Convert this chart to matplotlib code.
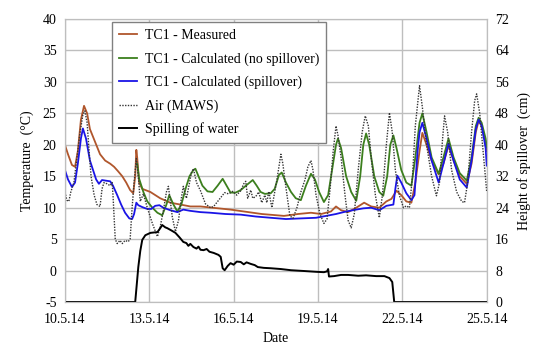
import matplotlib
matplotlib.use("Agg")
import matplotlib.pyplot as plt

plt.rcParams['font.family'] = ['Liberation Serif', 'DejaVu Serif']
plt.rcParams['font.size'] = 10
plt.rcParams['axes.unicode_minus'] = False

# days since 10.5.14 00:00
tick_days = [0, 3, 6, 9, 12, 15]
tick_labels = ['10.5.14', '13.5.14', '16.5.14', '19.5.14', '22.5.14', '25.5.14']

# TC1 - Measured (degC)
meas_d = [0, 0.11, 0.25, 0.36, 0.46, 0.57, 0.68, 0.79, 0.89, 1.07, 1.25, 1.43, 1.61,
          1.75, 1.89, 2.04, 2.18, 2.32, 2.43, 2.5, 2.54, 2.57, 2.64, 2.75, 3.04, 3.39,
          3.75, 4.11, 4.46, 4.82, 5.89, 7.0, 7.79, 8.29, 8.75, 9.11, 9.46, 9.64, 9.82,
          10.07, 10.36, 10.64, 10.89, 11.18, 11.43, 11.61, 11.79, 11.96, 12.14, 12.32,
          12.46, 12.61, 12.71, 12.86, 13.04, 13.29, 13.46, 13.64, 13.82, 14.04, 14.29,
          14.46, 14.61, 14.71, 14.82, 14.96, 15.0]
meas_t = [20, 18.5, 16.8, 16.5, 19, 24, 26.2, 25, 22.5, 20.5, 18.5, 17.5, 17,
          16.5, 15.8, 15, 14, 12.8, 12.3, 15, 19.2, 18, 14, 13, 12.5, 11.5,
          10.8, 10.5, 10.2, 10.2, 9.7, 9.0, 8.7, 9.0, 9.2, 9.0, 9.4, 10.2, 9.6,
          9.3, 10.0, 10.8, 10.2, 10.0, 11.0, 11.4, 12.7, 12.0, 11.0, 10.8,
          14, 19, 21.9, 20, 17.5, 15.3, 17, 19.9, 17.5, 15, 13.8,
          17, 22, 23.8, 23, 20.5, 19]

# TC1 - Calculated (no spillover)
nosp_d = [2.57, 2.64, 2.79, 2.93, 3.11, 3.29, 3.46, 3.61, 3.71, 3.86, 4.0, 4.14,
          4.29, 4.43, 4.57, 4.64, 4.75, 4.89, 5.07, 5.25, 5.43, 5.61, 5.75, 5.89,
          6.07, 6.25, 6.46, 6.68, 6.82, 6.96, 7.11, 7.32, 7.46, 7.61, 7.71, 7.86,
          8.04, 8.21, 8.39, 8.57, 8.75, 8.89, 9.04, 9.21, 9.36, 9.5, 9.64, 9.71,
          9.82, 10.0, 10.18, 10.36, 10.5, 10.61, 10.71, 10.82, 11.0, 11.18, 11.32, 11.46,
          11.57, 11.68, 11.79, 11.96, 12.14, 12.32, 12.46, 12.61, 12.71, 12.86, 13.04, 13.29,
          13.46, 13.64, 13.82, 14.04, 14.29, 14.46, 14.61, 14.71, 14.82, 14.96, 15.0]
nosp_t = [17, 14.6, 12.5, 11, 10, 9.2, 8.8, 10.5, 12, 10.5, 9.4, 10.5,
          13, 15, 16, 16.2, 15, 13.5, 12.6, 12.5, 13.5, 14.6, 13.5, 12.4,
          12.4, 12.8, 13.6, 14.4, 13.5, 12.5, 12.2, 12.3, 13, 15.2, 15.6, 14,
          12.5, 11.5, 11.2, 13.5, 15.4, 14.5, 12.5, 10.9, 12, 16, 20, 21,
          19.5, 15, 12.5, 11.1, 15, 20, 21.8, 20, 15, 12.5, 11.9, 15,
          20, 21.5, 19.5, 16, 14, 13.5, 18, 23.5, 25, 22, 18, 15.4,
          18, 21, 18, 15.5, 14.3, 18, 23, 24.3, 23.5, 21, 19.6]

# TC1 - Calculated (spillover)
spil_d = [0, 0.11, 0.25, 0.36, 0.46, 0.57, 0.64, 0.75, 0.89, 1.0, 1.11, 1.21, 1.32,
          1.46, 1.61, 1.71, 1.86, 2.0, 2.14, 2.29, 2.39, 2.46, 2.54, 2.61, 2.75,
          2.93, 3.07, 3.21, 3.36, 3.5, 3.75, 4.0, 4.21, 4.46, 4.82, 5.18, 5.71,
          6.25, 6.79, 7.32, 7.86, 8.39, 8.93, 9.29, 9.64, 10.0, 10.36, 10.61, 10.89,
          11.18, 11.43, 11.68, 11.75, 11.82, 11.96, 12.14, 12.32, 12.43, 12.54,
          12.61, 12.71, 12.86, 13.04, 13.29, 13.46, 13.64, 13.82, 14.04, 14.29,
          14.46, 14.61, 14.71, 14.82, 14.96, 15.0]
spil_t = [16, 14.5, 13.3, 14, 17, 21, 22.6, 21, 17.5, 16, 14.5, 13.8, 14.4,
          14.3, 14.2, 13.5, 12, 10.5, 9.2, 8.3, 8.2, 9, 10.8, 10.4, 10.1,
          9.8, 9.8, 10.3, 10.4, 10.0, 9.6, 9.3, 9.7, 9.5, 9.3, 9.2, 9.0,
          8.9, 8.6, 8.4, 8.2, 8.3, 8.4, 8.7, 9.0, 9.4, 9.7, 9.9, 10.0,
          9.6, 10.3, 10.5, 13, 15.1, 14, 12.3, 11.2, 12, 19,
          22, 23.5, 21, 17.5, 14, 17, 20.2, 17.5, 14.5, 13.2,
          17.5, 22.5, 24, 23, 19.5, 16.7]

# Air (MAWS)
air_d = [0, 0.07, 0.14, 0.21, 0.32, 0.43, 0.54, 0.64, 0.71, 0.79, 0.86, 0.93, 1.04,
         1.14, 1.25, 1.32, 1.39, 1.5, 1.61, 1.68, 1.71, 1.79, 1.86, 1.96, 2.04,
         2.14, 2.25, 2.32, 2.39, 2.46, 2.54, 2.61, 2.68, 2.79, 2.93, 3.11, 3.29,
         3.39, 3.5, 3.61, 3.68, 3.75, 3.82, 3.93, 4.04, 4.14, 4.21, 4.32, 4.39,
         4.5, 4.57, 4.68, 4.82, 5.0, 5.18, 5.29, 5.43, 5.54, 5.68, 5.82, 5.96,
         6.11, 6.25, 6.36, 6.43, 6.5, 6.61, 6.68, 6.79, 6.89, 7.0, 7.11, 7.18,
         7.25, 7.36, 7.46, 7.54, 7.61, 7.68, 7.75, 7.82, 7.93, 8.0, 8.11, 8.25,
         8.39, 8.54, 8.64, 8.75, 8.82, 8.93, 9.07, 9.21, 9.32, 9.43, 9.54, 9.64,
         9.71, 9.82, 9.96, 10.07, 10.18, 10.29, 10.43, 10.57, 10.68, 10.79, 10.89,
         11.04, 11.18, 11.29, 11.43, 11.54, 11.64, 11.75, 11.89, 12.04, 12.14,
         12.25, 12.36, 12.46, 12.61, 12.71, 12.86, 13.04, 13.21, 13.32, 13.43,
         13.5, 13.61, 13.75, 13.93, 14.11, 14.21, 14.32, 14.46, 14.57, 14.64,
         14.75, 14.89, 15.0]
air_t = [12.5, 11.2, 11.0, 12.5, 14, 18, 22, 24.8, 25.4, 23.5, 19, 15, 12,
         10.5, 10.2, 13, 14, 13.8, 13.5, 14, 12, 5, 4.3, 4.8, 4.3,
         4.8, 4.6, 5, 10, 14, 17.8, 15, 11, 12.2, 10, 7.5, 5.4,
         7, 9.5, 12.5, 13.4, 11, 8.5, 6.2, 8, 11.5, 13.4, 11.5, 13,
         15.6, 16.2, 14, 12.7, 10.6, 10, 10.2, 11, 11.6, 12.4, 12.2, 12.6,
         12.0, 12.7, 13.8, 14.2, 11.5, 12.8, 11.5, 11.8, 12.5, 10.8, 12, 10.8,
         12.6, 10, 12.5, 14.5, 16.5, 18.5, 17, 14.5, 11, 8.7, 8.3, 10,
         12.5, 14.5, 16.5, 17.5, 16, 12, 9, 7.5, 8.2, 13, 19, 23,
         21.5, 18, 12, 8, 6.8, 9, 16, 22, 24.6, 23, 18,
         12, 8.4, 12, 20, 25.1, 22, 16, 12, 10, 10.3,
         10, 15, 23, 29.4, 26, 20, 15, 11.9, 14, 21,
         24.6, 22, 16, 12.5, 11, 10.8, 14, 22, 27, 28.1,
         25, 18, 12.5]

# Spilling of water (cm, right axis)
spill_d = [0, 2.5, 2.61, 2.68, 2.75, 2.86, 3.04, 3.29, 3.39, 3.46, 3.57, 3.64, 3.79,
           3.93, 4.07, 4.21, 4.32, 4.39, 4.46, 4.57, 4.68, 4.75, 4.82, 4.93, 5.04,
           5.14, 5.29, 5.46, 5.54, 5.61, 5.68, 5.79, 5.89, 6.0, 6.11, 6.25, 6.36,
           6.46, 6.61, 6.75, 6.86, 7.07, 7.32, 7.68, 8.04, 8.5, 8.93, 9.21, 9.32,
           9.36, 9.39, 9.57, 9.82, 10.07, 10.43, 10.71, 11.07, 11.36, 11.54, 11.64,
           11.71, 15.0]
spill_h = [0, 0, 8.9, 13, 15.8, 17, 17.6, 17.8, 18.8, 19.6, 19.0, 18.8, 18.2,
           17.6, 16.5, 15.3, 15.0, 14.3, 14.8, 14.0, 13.6, 14.1, 13.3, 13.2, 13.5,
           12.8, 12.5, 12.0, 11.5, 8.6, 8.1, 9.2, 9.9, 9.5, 10.3, 10.2, 9.6,
           10.1, 9.7, 9.4, 8.9, 8.7, 8.6, 8.4, 8.1, 7.9, 7.7, 7.6, 7.8,
           8.4, 6.5, 6.6, 6.9, 6.9, 6.7, 6.8, 6.6, 6.6, 6.1, 5.1,
           0, 0]

fig = plt.figure(figsize=(5.5, 3.46), dpi=100)
ax = fig.add_axes([0.118, 0.127, 0.767, 0.818])
ax2 = ax.twinx()

grid_c = '#BEBEBE'
l1, = ax.plot(meas_d, meas_t, color='#B0562C', lw=1.3, label='TC1 - Measured')
l2, = ax.plot(nosp_d, nosp_t, color='#3C7F1E', lw=1.3, label='TC1 - Calculated (no spillover)')
l3, = ax.plot(spil_d, spil_t, color='#1A14E6', lw=1.3, label='TC1 - Calculated (spillover)')
l4, = ax.plot(air_d, air_t, color='#353535', lw=1.0, ls=(0, (1, 1)), label='Air (MAWS)')
l5, = ax2.plot(spill_d, spill_h, color='black', lw=1.4, label='Spilling of water')

ax.set_xlim(0, 15)
ax.set_ylim(-5, 40)
ax.set_yticks(range(-5, 41, 5))
ax.set_xticks(tick_days)
ax.set_xticklabels(tick_labels)
ax2.set_ylim(0, 72)
ax2.set_yticks(range(0, 73, 8))

ax.grid(True, color=grid_c, lw=1)
ax.set_axisbelow(True)
for a in (ax, ax2):
    a.tick_params(length=0, labelsize=10, pad=6)
    for s in a.spines.values():
        s.set_color(grid_c)
ax.tick_params(axis='x', pad=8)

ax.set_xlabel('Date', fontsize=10, labelpad=4)
ax.set_ylabel('Temperature  (°C)', fontsize=10, labelpad=6)
ax2.set_ylabel('Height of spillover  (cm)', fontsize=10, labelpad=6)

leg = ax.legend(handles=[l1, l2, l3, l4, l5], loc='upper left',
                bbox_to_anchor=(0.111, 0.989), borderaxespad=0,
                fancybox=False, framealpha=1,
                edgecolor='#808080', fontsize=10, handlelength=1.3,
                labelspacing=0.72, borderpad=0.5, handletextpad=0.6)
leg.get_frame().set_linewidth(1.0)
leg.set_zorder(5)

fig.savefig('out.png', dpi=100)
